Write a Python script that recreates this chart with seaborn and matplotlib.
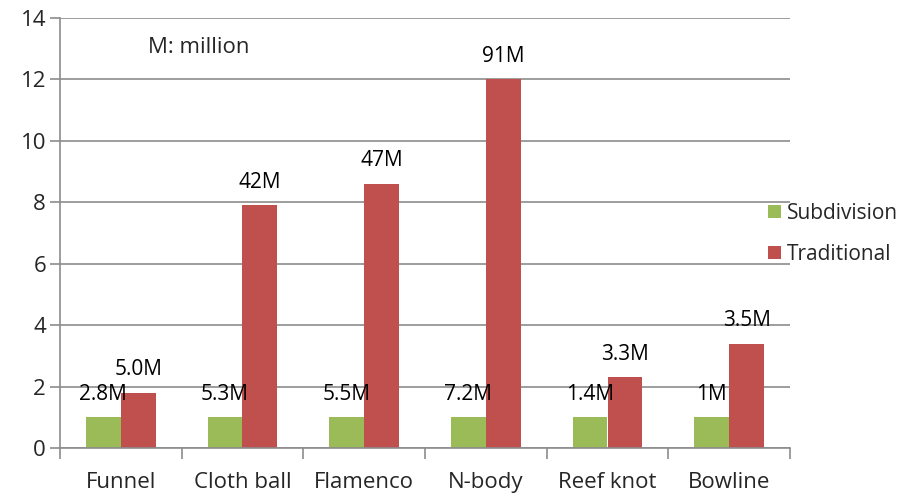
import matplotlib
matplotlib.use("Agg")
import matplotlib.pyplot as plt
import seaborn as sns
import pandas as pd
import numpy as np
from matplotlib.patches import Patch
from matplotlib.ticker import FixedLocator

categories = ["Funnel", "Cloth ball", "Flamenco", "N-body", "Reef knot", "Bowline"]
subdivision = [1.0, 1.0, 1.0, 1.0, 1.0, 1.0]
traditional = [1.8, 7.9, 8.6, 12.0, 2.3, 3.4]
sub_labels = ["2.8M", "5.3M", "5.5M", "7.2M", "1.4M", "1M"]
trad_labels = ["5.0M", "42M", "47M", "91M", "3.3M", "3.5M"]
series = ["Subdivision", "Traditional"]
colors = ["#9BBB59", "#C0504D"]

df = pd.DataFrame({
    "cat": categories * 2,
    "series": [series[0]] * len(categories) + [series[1]] * len(categories),
    "value": subdivision + traditional,
    "label": sub_labels + trad_labels,
})

sns.set_theme(style="white")
plt.rcParams["font.family"] = ["Open Sans", "DejaVu Sans"]

fig = plt.figure(figsize=(9.09, 4.97), dpi=100)
ax = fig.add_axes([60 / 909, 1 - 448 / 497, 730 / 909, 430 / 497])

sns.barplot(data=df, x="cat", y="value", hue="series", palette=colors,
            width=0.575, saturation=1, ax=ax, legend=False, edgecolor="none")

ax.set_ylim(0, 14)
ax.set_xlim(-0.5, len(categories) - 0.5)
ax.set_yticks(np.arange(0, 15, 2))
ax.yaxis.grid(True, color="#8C8C8C", linewidth=1.2)
ax.set_axisbelow(True)
ax.set_xlabel("")
ax.set_ylabel("")
for s in ["top", "right"]:
    ax.spines[s].set_visible(False)
for s in ["left", "bottom"]:
    ax.spines[s].set_color("#8C8C8C")
    ax.spines[s].set_linewidth(1.2)

ax.tick_params(axis="y", labelsize=16, length=7, color="#8C8C8C", width=1.2, left=True, pad=3)
ax.tick_params(axis="x", labelsize=16, length=0, pad=17)
ax.xaxis.set_minor_locator(FixedLocator(np.arange(-0.5, len(categories), 1.0)))
ax.tick_params(axis="x", which="minor", length=8, color="#8C8C8C", width=1.2, bottom=True)

for container, labs in zip(ax.containers, [sub_labels, trad_labels]):
    ax.bar_label(container, labels=labs, padding=9, fontsize=15, color="black")

ax.text(0.22, 13.05, "M: million", fontsize=16, ha="left", va="center")

handles = [Patch(facecolor=c, edgecolor="none") for c in colors]
fig.legend(handles, series, loc="center left", bbox_to_anchor=(768 / 909, 1 - 234 / 497),
           frameon=False, fontsize=15, handlelength=0.6, handleheight=0.6,
           handletextpad=0.3, labelspacing=0.95, borderpad=0, borderaxespad=0)

fig.savefig("out.png", dpi=100)
